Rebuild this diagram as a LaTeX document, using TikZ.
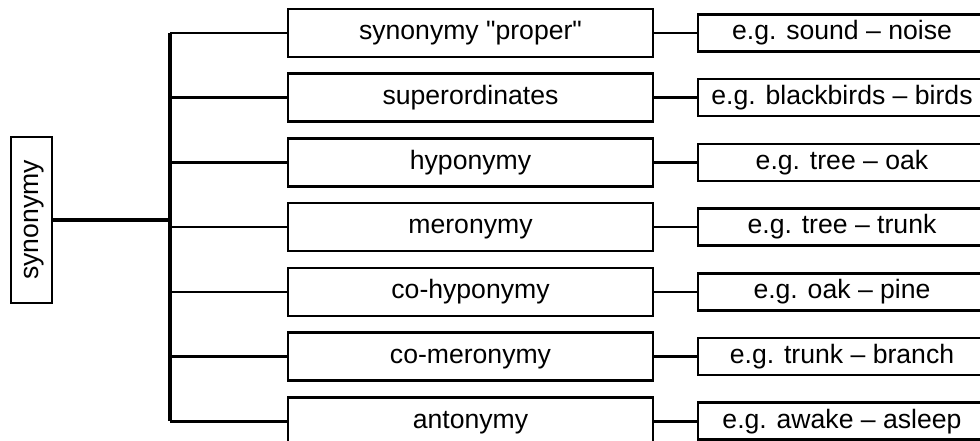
\documentclass[tikz,border=0pt]{standalone}
\usepackage{fontspec}
\setmainfont{Liberation Sans}[Ligatures=TeXOff]
\begin{document}
\begin{tikzpicture}[x=1pt,y=-1pt,
  box/.style={draw=black, line width=2.6pt, fill=white, inner sep=0pt,
    font=\fontsize{26.6}{30}\selectfont, text height=19.2pt, text depth=5.6pt},
  midbox/.style={box, minimum width=365pt, minimum height=48pt},
  exbox/.style={box, minimum width=288pt, minimum height=37pt},
  link/.style={draw=black, line width=2.6pt},
  trunk/.style={draw=black, line width=3.4pt}]
\useasboundingbox (0,0) rectangle (980,441);
\clip (0,0) rectangle (980,441);
\node[box, minimum width=41pt, minimum height=166pt] (syn) at (31.5,220) {};
\node[rotate=90, inner sep=0pt, font=\fontsize{26.6}{30}\selectfont, text height=19.2pt, text depth=5.6pt] (synt) at (31.5,220) {synonymy};
\foreach \i/\m/\e in {0/{synonymy "proper"}/{e.g. sound – noise},
  1/{superordinates}/{e.g. blackbirds – birds},
  2/{hyponymy}/{e.g. tree – oak},
  3/{meronymy}/{e.g. tree – trunk},
  4/{co-hyponymy}/{e.g. oak – pine},
  5/{co-meronymy}/{e.g. trunk – branch},
  6/{antonymy}/{e.g. awake – asleep}}{
  \pgfmathsetmacro{\yy}{33+64.7*\i}
  \node[midbox] (m\i) at (470.5,\yy) {\m};
  \node[exbox] (e\i) at (842,\yy) {\e};
  \coordinate (t\i) at (170,\yy);
  \draw[link] (t\i) -- (m\i.west);
  \draw[link] (m\i.east) -- (e\i.west);
}
\coordinate (tm) at (170,220);
\draw[trunk] (t0) -- (t6);
\draw[trunk] (syn.east) -- (tm);
\end{tikzpicture}
\end{document}
